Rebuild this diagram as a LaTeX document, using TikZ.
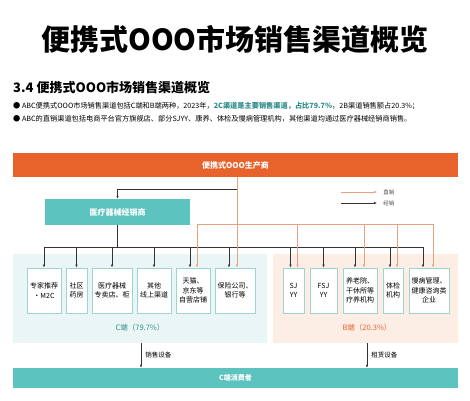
\documentclass[tikz,border=0pt]{standalone}
\usepackage{fontspec}
\setmainfont{Noto Sans CJK SC}
\usetikzlibrary{positioning, arrows.meta}

\definecolor{mainorange}{HTML}{E8632B}
\definecolor{mainteal}{HTML}{5CC3BE}
\definecolor{bgteal}{HTML}{EAF6F6}
\definecolor{bgorange}{HTML}{FCEEE5}
\definecolor{lineorange}{HTML}{E8A07F}
\definecolor{boxline}{HTML}{9ED3CF}
\definecolor{tealtext}{HTML}{2F8D8A}

\begin{document}
\begin{tikzpicture}[
    x=1pt, y=-1pt,
    every node/.style={font=\fontsize{7}{9.5}\selectfont, inner sep=0pt},
    chanbox/.style={draw=boxline, fill=white, line width=0.8pt, minimum height=45pt, align=center},
    bar/.style={minimum width=445pt, font=\fontsize{8}{10}\selectfont\bfseries, text=white},
    sell/.style={-{Latex[length=3pt, width=2.5pt]}, line width=0.6pt, draw=black!80},
    direct/.style={-{Latex[length=3pt, width=2.5pt]}, line width=0.6pt, draw=lineorange}
]

    \fill[white] (0,0) rectangle (470,400);
    \useasboundingbox (0,0) rectangle (470,400);

    % ---- Heading ----
    \node[font=\fontsize{29}{32}\selectfont\bfseries] (title) at (235,39) {便携式OOO市场销售渠道概览};
    \node[anchor=west, font=\fontsize{13}{15}\selectfont\bfseries] (sub) at (13,88) {3.4 便携式OOO市场销售渠道概览};
    \node[anchor=west, font=\fontsize{7.2}{9}\selectfont] (note1) at (13,106)
        {● ABC便携式OOO市场销售渠道包括C端和B端两种，2023年，\textcolor{tealtext}{\bfseries 2C渠道是主要销售渠道，占比79.7\%}，2B渠道销售额占20.3\%；};
    \node[anchor=west, font=\fontsize{7.2}{9}\selectfont] (note2) at (13,119)
        {● ABC的直销渠道包括电商平台官方旗舰店、部分SJYY、康养、体检及慢病管理机构，其他渠道均通过医疗器械经销商销售。};

    % ---- Producer / dealer ----
    \node[bar, fill=mainorange, minimum height=24pt] (producer) at (235.5,165) {便携式OOO生产商};
    \node[fill=mainteal, minimum width=145pt, minimum height=26pt, text=white,
          font=\fontsize{8}{10}\selectfont\bfseries] (dealer) at (117.5,212) {医疗器械经销商};

    % ---- Legend ----
    \coordinate (lgA) at (341,192);
    \coordinate (lgB) at (377,192);
    \coordinate (lgC) at (341,203);
    \coordinate (lgD) at (377,203);
    \draw[direct] (lgA) -- (lgB) node[right=6pt, text=black!70, font=\fontsize{5.5}{6}\selectfont] {直销};
    \draw[sell] (lgC) -- (lgD) node[right=6pt, text=black!70, font=\fontsize{5.5}{6}\selectfont] {经销};

    % ---- Channel areas ----
    \node[fill=bgteal, minimum width=254pt, minimum height=89pt] (cside) at (140,298.5) {};
    \node[fill=bgorange, minimum width=185pt, minimum height=89pt] (bside) at (365.5,298.5) {};
    \node[text=tealtext, font=\fontsize{7.5}{9}\selectfont] (clabel) at (140,328) {C端（79.7\%）};
    \node[text=mainorange, font=\fontsize{7.5}{9}\selectfont] (blabel) at (367,328) {B端（20.3\%）};

    % ---- C side boxes ----
    \node[chanbox, minimum width=34pt] (b1) at (44,290.5) {专家推荐\\·M2C};
    \node[chanbox, minimum width=21pt] (b2) at (76.5,290.5) {社区\\药房};
    \node[chanbox, minimum width=40pt] (b3) at (112,290.5) {医疗器械\\专卖店、柜};
    \node[chanbox, minimum width=34pt] (b4) at (154,290.5) {其他\\线上渠道};
    \node[chanbox, minimum width=34pt] (b5) at (193,290.5) {天猫、\\京东等\\自营店铺};
    \node[chanbox, minimum width=40pt] (b6) at (235,290.5) {保险公司、\\银行等};

    % ---- B side boxes ----
    \node[chanbox, minimum width=21pt] (b7) at (293.5,290.5) {SJ\\YY};
    \node[chanbox, minimum width=27pt] (b8) at (323.5,290.5) {FSJ\\YY};
    \node[chanbox, minimum width=34pt] (b9) at (360,290.5) {养老院、\\干休所等\\疗养机构};
    \node[chanbox, minimum width=20pt] (b10) at (393,290.5) {体检\\机构};
    \node[chanbox, minimum width=40pt] (b11) at (429,290.5) {慢病管理、\\健康咨询类\\企业};

    % ---- Distribution (black) ----
    \coordinate (fork) at (237,189);
    \coordinate (kbus) at (0,247);
    \draw[sell] (producer.south -| fork) -- (fork) -| (dealer.north);
    \draw[line width=0.6pt, black!80] (dealer.south) -- (dealer.south |- kbus);
    \draw[line width=0.6pt, black!80] (b1.north |- kbus) -- ([xshift=-6pt]b11.north |- kbus);
    \foreach \b/\s in {b1/0, b2/0, b3/0, b4/0, b5/-3, b6/-6, b7/-3, b8/0, b9/-5, b10/-3, b11/-6}
        \draw[sell] ([xshift=\s pt]\b.north |- kbus) -- ([xshift=\s pt]\b.north);

    % ---- Direct sales (orange) ----
    \coordinate (obus) at (0,224);
    \draw[direct] (producer.south -| fork) -- (fork |- b6.north);
    \draw[line width=0.6pt, lineorange] ([xshift=4pt]b5.north |- obus) -- ([xshift=4pt]b11.north |- obus);
    \foreach \b in {b5, b7, b9, b10, b11}
        \draw[direct] ([xshift=4pt]\b.north |- obus) -- ([xshift=4pt]\b.north);

    % ---- Consumer ----
    \node[bar, fill=mainteal, minimum height=20pt, font=\fontsize{7}{9}\selectfont\bfseries] (consumer) at (235.5,378) {C端消费者};
    \coordinate (sellx) at (141,0);
    \coordinate (rentx) at (367,0);
    \draw[sell] (cside.south -| sellx) -- (consumer.north -| sellx)
        node[midway, right=4pt, font=\fontsize{6.5}{8}\selectfont] {销售设备};
    \draw[sell] (bside.south -| rentx) -- (consumer.north -| rentx)
        node[midway, right=4pt, font=\fontsize{6.5}{8}\selectfont] {租赁设备};

\end{tikzpicture}
\end{document}
